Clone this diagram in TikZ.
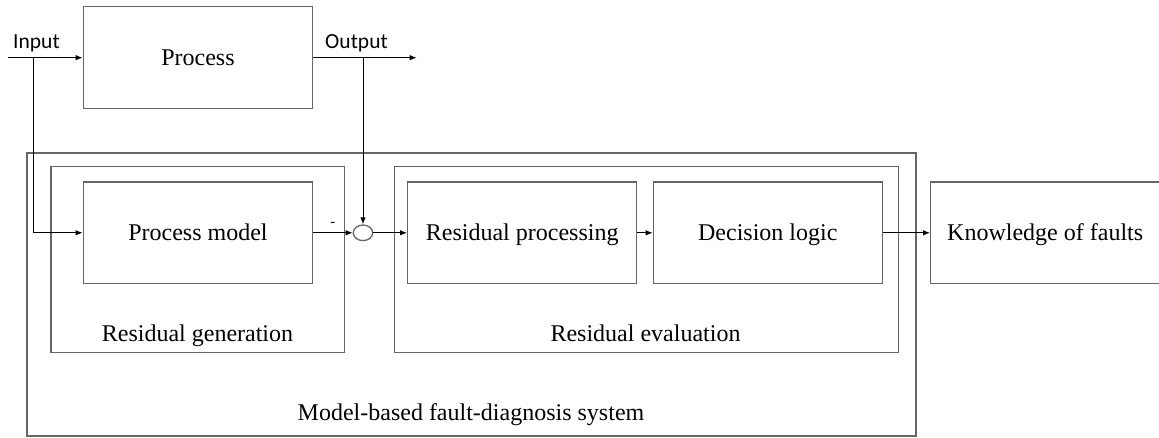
\documentclass[tikz,border=0pt]{standalone}
\usepackage{fontspec}
\setmainfont{Liberation Serif}
\newfontfamily\labelfont{Carlito}
\usetikzlibrary{arrows.meta,shapes.geometric}

\tikzset{
  box/.style={draw=black!60, line width=1.3pt, rectangle, inner sep=0pt,
    text height=16pt, text depth=0pt},
  frame/.style={draw=black!60, line width=1.3pt, rectangle, inner sep=0pt},
  caption/.style={anchor=base, inner sep=0pt},
  signal/.style={anchor=base, inner sep=0pt, font=\labelfont\fontsize{21.5}{24}\selectfont},
  flow/.style={draw=black, line width=1pt, -{Latex[length=7pt,width=5.5pt]}},
  junction/.style={draw=black!60, line width=1.3pt, ellipse, inner sep=0pt,
    minimum width=19.4pt, minimum height=15.6pt}
}

\begin{document}
\begin{tikzpicture}[x=1pt, y=-1pt, font=\fontsize{24}{28}\selectfont]
\useasboundingbox (0,0) rectangle (1159,437);

% enclosing frames
\node[frame, minimum width=889pt, minimum height=283pt] (system) at (471.5,294.5) {};
\node[frame, minimum width=293.3pt, minimum height=185.6pt] (rgen) at (197.7,259.5) {};
\node[frame, minimum width=504pt, minimum height=185.6pt] (reval) at (646.3,259.5) {};

% frame captions
\node[caption] (rgenlbl) at (197.5,341) {Residual generation};
\node[caption] (revallbl) at (645.5,341) {Residual evaluation};
\node[caption] (syslbl) at (471,420) {Model-based fault-diagnosis system};

% blocks
\node[box, minimum width=229.4pt, minimum height=102pt] (proc) at (198,57.7) {Process};
\node[box, minimum width=229.4pt, minimum height=101.7pt] (pm) at (198,232.8) {Process model};
\node[box, minimum width=229pt, minimum height=101.7pt] (rp) at (522.2,232.8) {Residual processing};
\node[box, minimum width=229pt, minimum height=101.7pt] (dl) at (767.8,232.8) {Decision logic};
\node[box, minimum width=229pt, minimum height=101.7pt] (kof) at (1045.2,232.8) {Knowledge of faults};

% summing junction
\node[junction] (sum) at (363,232.8) {};
\node[inner sep=0pt, font=\labelfont\fontsize{16}{18}\selectfont] (minus) at (332.7,224.5) {-};

% signal labels
\node[signal] (inlbl) at (36.5,48.3) {Input};
\node[signal] (outlbl) at (356.5,48.3) {Output};

% signal end points and branch points
\coordinate (inL) at (8,57.7);
\coordinate (inB) at (33.3,57.7);
\coordinate (outR) at (416.7,57.7);
\coordinate (outB) at (sum.north |- proc.east);

% connectors
\draw[flow] (inL) -- (proc.west);
\draw[flow] (proc.east) -- (outR);
\draw[flow] (inB) |- (pm.west);
\draw[flow] (outB) -- (sum.north);
\draw[flow] (pm.east) -- (sum.west);
\draw[flow] (sum.east) -- (rp.west);
\draw[flow] (rp.east) -- (dl.west);
\draw[flow] (dl.east) -- (kof.west);
\end{tikzpicture}
\end{document}
